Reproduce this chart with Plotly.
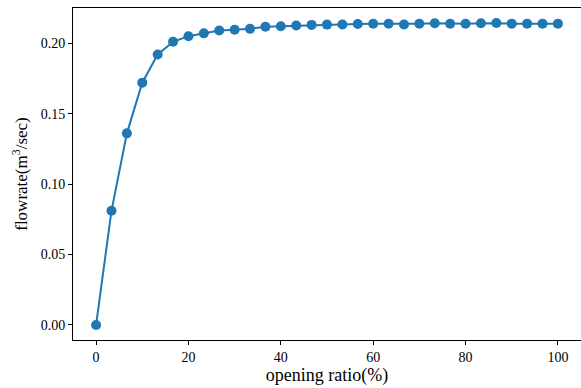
import plotly.graph_objects as go

opening_ratio = [i * 100 / 30 for i in range(31)]
flowrate = [0.0, 0.081, 0.136, 0.172, 0.192, 0.201, 0.205, 0.207, 0.209, 0.2095, 0.2102,
            0.2117, 0.2121, 0.2126, 0.2130, 0.2132, 0.2133, 0.2137, 0.2138, 0.2138, 0.2133,
            0.2138, 0.2142, 0.2138, 0.2138, 0.2142, 0.2143, 0.2139, 0.2139, 0.2139, 0.2139]
x_ticks = [0, 20, 40, 60, 80, 100]
y_ticks = [0.0, 0.05, 0.10, 0.15, 0.20]

fig = go.Figure(go.Scatter(
    x=opening_ratio, y=flowrate, mode="lines+markers",
    line=dict(color="#1f77b4", width=2),
    marker=dict(color="#1f77b4", size=10),
))

font = "Liberation Serif, Times New Roman, serif"
axis_common = dict(showline=True, linecolor="black", linewidth=1, mirror=True,
                   ticks="outside", ticklen=4, tickcolor="black", showgrid=False,
                   zeroline=False, automargin=False,
                   tickfont=dict(family=font, size=14, color="black"))
fig.update_layout(
    width=581, height=388,
    margin=dict(l=73, r=0, t=8, b=48),
    plot_bgcolor="white", paper_bgcolor="white",
    showlegend=False,
    font=dict(family=font, color="black"),
    xaxis=dict(range=[-5, 105], tickvals=x_ticks, ticktext=[str(v) for v in x_ticks],
               title=dict(text="opening ratio(%)", font=dict(family=font, size=18), standoff=3),
               **axis_common),
    yaxis=dict(range=[-0.0107, 0.225], tickvals=y_ticks, ticktext=[f"{v:.2f}" for v in y_ticks],
               title=dict(text="flowrate(m<sup>3</sup>/sec)", font=dict(family=font, size=17), standoff=8),
               **axis_common),
)
fig.write_html("out.html", config={"displayModeBar": False},
               post_script="document.body.style.margin='0';document.body.style.overflow='hidden';")
